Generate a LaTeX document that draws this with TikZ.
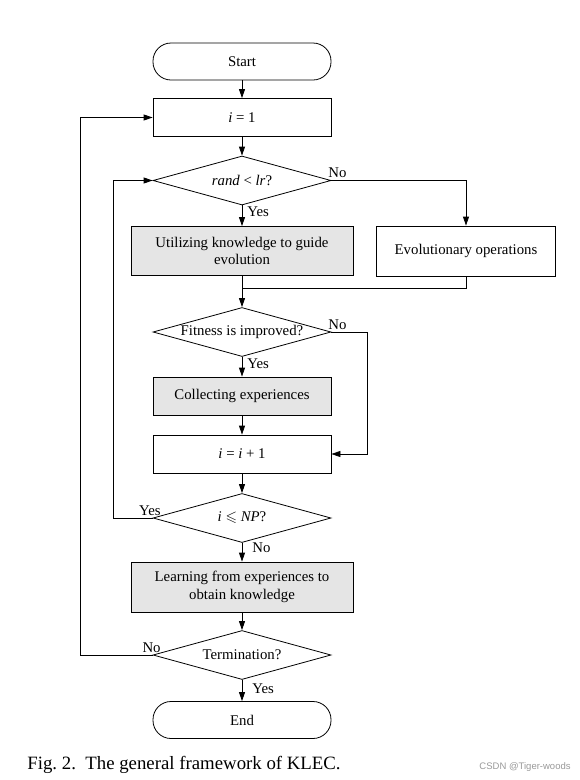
\documentclass[tikz,border=0pt]{standalone}
\usepackage{amssymb}
\usepackage{fontspec}
\setmainfont{Liberation Serif}
\newfontfamily\wmfont{Liberation Sans}
\usetikzlibrary{shapes.geometric,arrows.meta}
\definecolor{boxgray}{HTML}{E5E5E5}
\begin{document}
\begin{tikzpicture}[x=1pt,y=-1pt,
  every node/.style={font=\fontsize{14.8}{17.5}\selectfont},
  term/.style={draw,rounded corners=18pt,minimum width=178pt,minimum height=37pt,inner sep=0pt},
  proc/.style={draw,minimum width=178pt,minimum height=38pt,inner sep=0pt,align=center},
  graybox/.style={draw,fill=boxgray,minimum width=222pt,minimum height=49pt,inner sep=0pt,align=center},
  decis/.style={draw,diamond,aspect=3.6,minimum width=178pt,minimum height=49pt,inner sep=0pt},
  lbl/.style={inner sep=1pt},
  arr/.style={-{Triangle[length=9pt,width=6pt]}},
  line width=0.8pt]
\useasboundingbox (0,0) rectangle (579,780);
\node[term] (start) at (242,61.5) {Start};
\node[proc] (i1) at (242,117.5) {\textit{i} = 1};
\node[decis] (rand) at (242,180.5) {\textit{rand} {\textless} \textit{lr}?};
\node[graybox] (util) at (242,251) {Utilizing knowledge to guide\\evolution};
\node[proc,minimum width=179pt,minimum height=50pt] (evol) at (466,251) {Evolutionary operations};
\node[decis] (fit) at (242,332) {Fitness is improved?};
\node[proc,fill=boxgray] (coll) at (242,396) {Collecting experiences};
\node[proc] (inc) at (242,454) {\textit{i} = \textit{i} + 1};
\node[decis] (np) at (242,518) {\textit{i} $\leqslant$ \textit{NP}?};
\node[graybox,minimum height=50pt] (learn) at (242,587) {Learning from experiences to\\obtain knowledge};
\node[decis] (termq) at (242,655) {Termination?};
\node[term] (end) at (242,720) {End};

\coordinate (merge) at (242,288);
\coordinate (evolc) at (466,288);
\coordinate (fitr) at (367,332);
\coordinate (fitd) at (367,454);
\coordinate (npl) at (113,518);
\coordinate (npu) at (113,180.5);
\coordinate (tl) at (80,655);
\coordinate (tu) at (80,117.5);

\draw[arr] (start) -- (i1);
\draw[arr] (i1) -- (rand);
\draw[arr] (rand) -- (util);
\draw[arr] (rand.east) -| (evol.north);
\draw (util.south) -- (merge);
\draw (evol.south) -- (evolc) -- (merge);
\draw[arr] (merge) -- (fit.north);
\draw[arr] (fit) -- (coll);
\draw[arr] (fit.east) -- (fitr) -- (fitd) -- (inc.east);
\draw[arr] (coll) -- (inc);
\draw[arr] (inc) -- (np);
\draw[arr] (np.west) -- (npl) -- (npu) -- (rand.west);
\draw[arr] (np) -- (learn);
\draw[arr] (learn) -- (termq);
\draw[arr] (termq.west) -- (tl) -- (tu) -- (i1.west);
\draw[arr] (termq) -- (end);

\node[lbl,anchor=south west] (l1) at (327,179) {No};
\node[lbl,anchor=west] (l2) at (246,212) {Yes};
\node[lbl,anchor=south west] (l3) at (327,331) {No};
\node[lbl,anchor=west] (l4) at (246,364) {Yes};
\node[lbl,anchor=south east] (l5) at (162,517) {Yes};
\node[lbl,anchor=west] (l6) at (251,548) {No};
\node[lbl,anchor=south east] (l7) at (162,654) {No};
\node[lbl,anchor=west] (l8) at (251,689) {Yes};

\node[anchor=west,font=\fontsize{18.8}{22}\selectfont,inner sep=0pt] (cap) at (27,765) {Fig.~2.\ \ The general framework of KLEC.};
\node[anchor=east,font=\wmfont\fontsize{9.5}{11}\selectfont,text=black!40,inner sep=0pt] (wm) at (571,767) {CSDN @Tiger-woods};
\end{tikzpicture}
\end{document}
